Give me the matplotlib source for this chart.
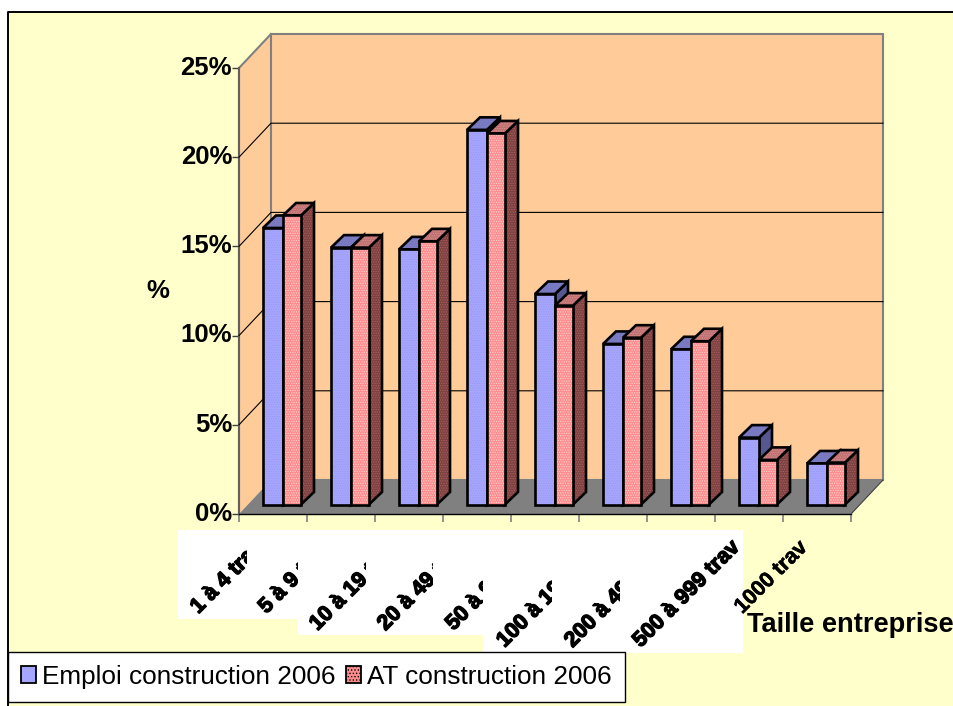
import matplotlib
matplotlib.use("Agg")
import matplotlib.pyplot as plt
from matplotlib.patches import Polygon, Rectangle, Patch
from matplotlib.transforms import ScaledTranslation
import matplotlib.patheffects as pe

plt.rcParams['font.family'] = ['Liberation Sans', 'DejaVu Sans']
plt.rcParams['hatch.linewidth'] = 0.6

categories = ["1 à 4 trav", "5 à 9 trav", "10 à 19 trav", "20 à 49 trav", "50 à 99 trav",
              "100 à 199 trav", "200 à 499 trav", "500 à 999 trav", "1000 trav"]
emploi = [15.5, 14.4, 14.3, 21.0, 11.8, 9.0, 8.7, 3.75, 2.3]
at = [16.2, 14.4, 14.75, 20.8, 11.15, 9.35, 9.15, 2.5, 2.35]
y_ticks = [0, 5, 10, 15, 20, 25]
y_labels = ["0%", "5%", "10%", "15%", "20%", "25%"]

W, H = 954, 706
BG = "#FFFFCC"
WALL = "#FFCC99"
GREY = "#808080"

fig = plt.figure(figsize=(W / 100, H / 100), dpi=100, facecolor="white")

# calque en pixels pour le cadre, le fond blanc des etiquettes et les textes
px = fig.add_axes([0, 0, 1, 1], zorder=0)
px.set_xlim(0, W)
px.set_ylim(H, 0)
px.axis("off")
px.add_patch(Rectangle((8, 12), W - 8, H - 12, facecolor=BG, edgecolor="none"))

ax = fig.add_axes([239 / W, (H - 514) / H, 612 / W, 446 / H], zorder=1)
ax.patch.set_alpha(0)
ax.set_xlim(0, 9)
ax.set_ylim(0, 25)
for s in ax.spines.values():
    s.set_visible(False)

# conversion pixels -> donnees
ux = 9 / 612
uy = 25 / 446
wall_dx, wall_dy = 32 * ux, 34 * uy


def poly(points, **kw):
    ax.add_patch(Polygon(points, closed=True, clip_on=False, **kw))


# murs et sol
poly([(0, 0), (wall_dx, wall_dy), (wall_dx, 25 + wall_dy), (0, 25)], facecolor=WALL, edgecolor="none", zorder=1)
poly([(wall_dx, wall_dy), (9 + wall_dx, wall_dy), (9 + wall_dx, 25 + wall_dy), (wall_dx, 25 + wall_dy)],
     facecolor=WALL, edgecolor=GREY, linewidth=1.5, zorder=1)
poly([(0, 0), (9, 0), (9 + wall_dx, wall_dy), (wall_dx, wall_dy)], facecolor=GREY, edgecolor="none", zorder=2)
ax.plot([0, 0, wall_dx], [0, 25, 25 + wall_dy], color=GREY, lw=1.5, clip_on=False, zorder=2)
ax.plot([0, 0], [0, 25], color="#606060", lw=1.5, clip_on=False, zorder=2)
ax.plot([0, 9], [0, 0], color="black", lw=1.0, clip_on=False, zorder=3)
ax.plot([9, 9 + wall_dx], [0, wall_dy], color="#404040", lw=0.8, clip_on=False, zorder=3)

# grille
for v in y_ticks[1:-1]:
    ax.plot([0, wall_dx, 9 + wall_dx], [v, v + wall_dy, v + wall_dy], color="black", lw=0.8, clip_on=False, zorder=2)

ax.set_xticks(range(10))
ax.set_xticklabels([])
ax.tick_params(axis="x", length=6, width=1.2, color=GREY)
ax.set_yticks(y_ticks)
ax.set_yticklabels(y_labels, fontsize=18.5, fontweight="bold")
ax.tick_params(axis="y", length=5, width=1.0, color="#404040", pad=0)
up = ScaledTranslation(0, 2 / 72, fig.dpi_scale_trans)
for lab in ax.get_yticklabels():
    lab.set_transform(lab.get_transform() + up)

lift = 9.5 * uy
offset = 24 * ux
w_blue, w_red = 20 * ux, 18 * ux
depth_x, depth_y = 13 * ux, 12.5 * uy


def face(points, color, dots):
    poly(points, facecolor=color, edgecolor=dots, hatch=".......", linewidth=0, zorder=4)
    poly(points, fill=False, edgecolor="black", linewidth=1.9, joinstyle="miter", zorder=4)


def box(x, width, value, front, dots, top, top_dots, side, side_dots):
    y0, y1 = lift, lift + value
    x1 = x + width
    face([(x1, y0), (x1 + depth_x, y0 + depth_y), (x1 + depth_x, y1 + depth_y), (x1, y1)], side, side_dots)
    face([(x, y1), (x1, y1), (x1 + depth_x, y1 + depth_y), (x + depth_x, y1 + depth_y)], top, top_dots)
    ax.bar(x, value, width, bottom=y0, align="edge", color=front, edgecolor=dots, hatch=".......", linewidth=0, zorder=4)
    ax.bar(x, value, width, bottom=y0, align="edge", fill=False, edgecolor="black", linewidth=1.9, zorder=4)


for i in range(len(categories)):
    box(i + offset, w_blue, emploi[i], "#A6A6FF", "#9999F0", "#7878C0", "#8080C8", "#555590", "#5C5C98")
    box(i + offset + w_blue, w_red, at[i], "#FF8C8C", "#FFD0D0", "#C07070", "#D89090", "#7F4040", "#A86060")

# fond blanc derriere les etiquettes
px.add_patch(Rectangle((178, 530), 120, 89, facecolor="white", edgecolor="none"))
px.add_patch(Rectangle((298, 530), 185, 105, facecolor="white", edgecolor="none"))
px.add_patch(Rectangle((483, 530), 260, 123, facecolor="white", edgecolor="none"))

# etiquettes tronquees comme dans l'original
clip_right = [247, 298, 366, 433, 483, 552, 620, 742, 954]
for i, lab in enumerate(categories):
    last = i == len(categories) - 1
    t = px.text(239 + 68 * i + 14, 537, lab, rotation=45, rotation_mode="anchor", ha="right", va="top",
                fontsize=15.5, fontweight="bold", color="black",
                path_effects=[pe.withStroke(linewidth=0.4 if last else 1.0, foreground="black")])
    t.set_clip_path(Rectangle((178, 500), clip_right[i] - 178, 200, transform=px.transData))
    t.set_clip_on(True)

px.text(747, 625, "Taille entreprise", fontsize=19.6, fontweight="bold", va="center", ha="left", clip_on=False)
px.text(158, 291, "%", fontsize=18.5, fontweight="bold", va="center", ha="center")

# cadre
px.plot([8, 8, W], [H, 12, 12], color="black", lw=1.4)

handles = [Patch(facecolor="#A6A6FF", edgecolor="black", linewidth=1.3, label="Emploi construction 2006"),
           Patch(facecolor="#FF8C8C", edgecolor="black", linewidth=1.3, hatch=".....", label="AT construction 2006")]
leg = px.legend(handles=handles, loc="lower left", bbox_to_anchor=(8 / W, 4 / H), bbox_transform=fig.transFigure,
                ncol=2, fontsize=18.8, frameon=True, fancybox=False, edgecolor="black", facecolor="white", framealpha=1,
                borderaxespad=0, handlelength=0.56, handleheight=0.62, handletextpad=0.26, columnspacing=0.38, borderpad=0.5)
leg.get_frame().set_linewidth(1.0)

fig.savefig("out.png", dpi=100, facecolor="white")
